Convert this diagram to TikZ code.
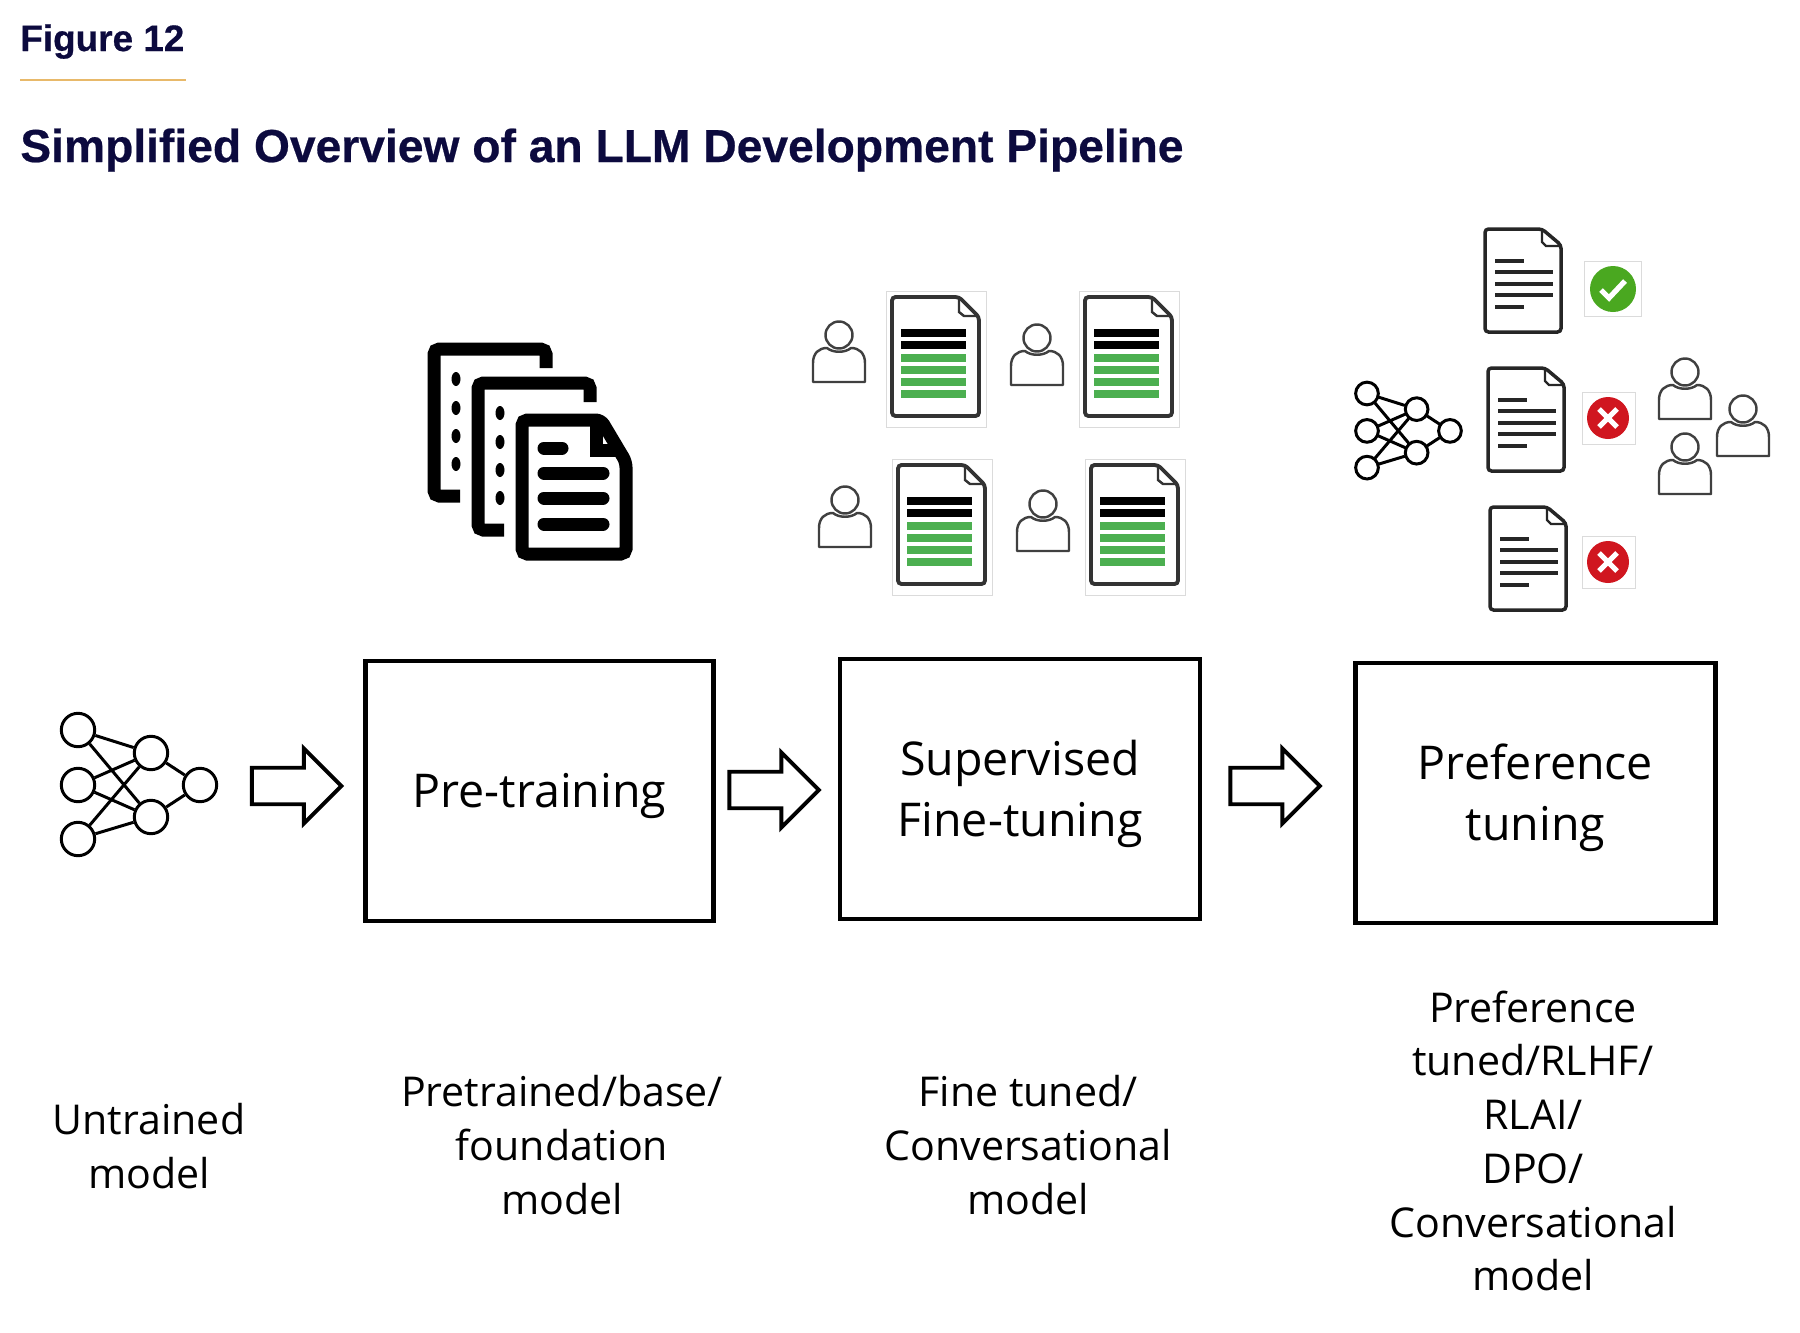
\documentclass[tikz,border=0pt]{standalone}
\usepackage{fontspec}
\setmainfont{Open Sans}
\newfontfamily\headfont[BoldFeatures={FakeBold=0.5}]{Liberation Sans}
\usetikzlibrary{shapes,arrows,positioning}
\definecolor{navy}{HTML}{0C0A3E}
\definecolor{rulegold}{HTML}{E8B96A}
\definecolor{barblue}{HTML}{4CAF50}
\definecolor{okgreen}{HTML}{4AA820}
\definecolor{badred}{HTML}{D0161F}
\newcommand{\lowered}[1]{\raisebox{-2.8pt}[\height][\depth]{#1}}
\tikzset{
	stagebox/.style={draw, line width=2.7pt, minimum width=198pt, minimum height=148pt, inner sep=0pt, align=center, font=\fontsize{26.5}{35}\selectfont},
	stagetext/.style={align=center, inner sep=0pt, font=\fontsize{23.4}{30.6}\selectfont},
	blockarrow/.style={draw, single arrow, line width=2.2pt, minimum height=51pt, minimum width=40.5pt, single arrow head extend=11pt, single arrow head indent=0pt, inner xsep=0pt, inner ysep=9.3pt},
	neuron/.style={draw, circle, line width=1.7pt, fill=white, minimum size=19pt, inner sep=0pt},
	person line/.style={draw=black!75, line width=1.4pt, line join=round},
	faint/.style={draw=black!14, line width=0.5pt},
	nnet/.pic={
		\node[neuron] (i1) at (0,0) {};
		\node[neuron] (i2) at (0,55) {};
		\node[neuron] (i3) at (0,109) {};
		\node[neuron] (m1) at (73,23) {};
		\node[neuron] (m2) at (73,87) {};
		\node[neuron] (o1) at (122,55) {};
		\draw[line width=1.7pt] (i1) -- (m1) (i1) -- (m2) (i2) -- (m1) (i2) -- (m2);
		\draw[line width=1.7pt] (i3) -- (m1) (i3) -- (m2) (m1) -- (o1) (m2) -- (o1);
	},
	person/.pic={
		\draw[person line] (0,0) circle (13.5);
		\draw[person line] (-26,47) -- (-26,28) .. controls (-26,18) and (-20,13) .. (-12,13) .. controls (-6,18) and (6,18) .. (12,13) .. controls (20,13) and (26,18) .. (26,28) -- (26,47) -- cycle;
	},
	labeldoc/.pic={
		\draw[faint] (-6,-6) rectangle (94,130);
		\draw[line width=2.2pt, rounded corners=2pt, black!80] (0,0) -- (67,0) -- (87,20) -- (87,119) -- (0,119) -- cycle;
		\draw[line width=1.4pt, black!80] (67,0) -- (67,15) -- (72,19) -- (87,19);
		\draw[line width=4pt] (9,36) -- (74,36) (9,48) -- (74,48);
		\draw[line width=4pt, barblue] (9,61) -- (74,61) (9,73) -- (74,73) (9,85) -- (74,85) (9,97) -- (74,97);
	},
	textdoc/.pic={
		\draw[line width=2pt, rounded corners=2pt, black!85] (0,0) -- (57,0) -- (76,16) -- (76,103) -- (0,103) -- cycle;
		\draw[line width=1.3pt, black!85] (57,0) -- (57,13) -- (61,17) -- (76,17);
		\draw[line width=1.9pt, black!85] (10,32) -- (39,32) (10,43) -- (68,43) (10,55) -- (68,55) (10,66) -- (68,66) (10,78) -- (39,78);
	},
	okbadge/.pic={
		\draw[faint] (-29,-28) rectangle (28,27);
		\fill[okgreen] (0,0) circle (23);
		\draw[white, line width=3pt] (-12,1) -- (-4,9) -- (12,-8);
	},
	nobadge/.pic={
		\draw[faint] (-26,-26) rectangle (27,26);
		\fill[badred] (0,0) circle (21);
		\draw[white, line width=3pt] (-9,-9) -- (9,9) (-9,9) -- (9,-9);
	},
}
\begin{document}
\begin{tikzpicture}[x=0.02cm, y=-0.02cm]
	\useasboundingbox (0,0) rectangle (1800,1333);
	% heading
	\node[anchor=base west, inner sep=0pt, text=navy, font=\headfont\bfseries\fontsize{21}{21}\selectfont] (figno) at (20,51) {Figure 12};
	\draw[rulegold, line width=1pt] (figno.west |- 0,80) -- (186,80);
	\node[anchor=base west, inner sep=0pt, text=navy, font=\headfont\bfseries\fontsize{26.3}{26.3}\selectfont] (heading) at (20,162) {Simplified Overview of an LLM Development Pipeline};
	% pipeline
	\node[stagebox] (pretrain) at (539.5,791) {\lowered{Pre-training}};
	\node[stagebox, minimum width=205pt] (finetune) at (1020,789) {\lowered{Supervised}\\\lowered{Fine-tuning}};
	\node[stagebox, minimum width=205pt] (preftune) at (1535.5,793) {\lowered{Preference}\\\lowered{tuning}};
	\pic (nnA) at (78,730) {nnet};
	\node[blockarrow] (arrowA) at (287.5,786) {};
	\node[blockarrow] (arrowB) at (765,790) {};
	\node[blockarrow] (arrowC) at (1266,786) {};
	% captions
	\node[stagetext] (untrained) at (149,1146) {Untrained\\model};
	\node[stagetext] (pretrained) at (562,1145) {Pretrained/base/\\foundation\\model};
	\node[stagetext] (finetuned) at (1028,1145) {Fine tuned/\\Conversational\\model};
	\node[stagetext] (preftuned) at (1533,1141) {Preference\\tuned/RLHF/\\RLAI/\\DPO/\\Conversational\\model};
	% stacked documents
	\draw[line width=7.4pt, rounded corners=3pt] (546,368) -- (546,349) -- (434,349) -- (434,496) -- (460,496);
	\fill (456,379) ellipse (4.5 and 7) (456,408) ellipse (4.5 and 7) (456,436) ellipse (4.5 and 7) (456,464) ellipse (4.5 and 7);
	\draw[line width=7.4pt, rounded corners=3pt] (590,402) -- (590,383) -- (478,383) -- (478,530) -- (504,530);
	\fill (500,413) ellipse (4.5 and 7) (500,442) ellipse (4.5 and 7) (500,470) ellipse (4.5 and 7) (500,498) ellipse (4.5 and 7);
	\draw[line width=7.4pt, fill=white, rounded corners=3pt] (522,420) -- (601,420) -- (626,462) -- (626,554) -- (522,554) -- cycle;
	\draw[line width=7.4pt] (596,425) -- (596,450) -- (622,450);
	\draw[line width=7.4pt, line cap=round] (544,448) -- (562,448) (544,473) -- (603,473) (544,498) -- (603,498) (544,524) -- (603,524);
	% supervised pairs
	\pic at (839,335) {person};
	\pic at (892,297) {labeldoc};
	\pic at (1037,338) {person};
	\pic at (1085,297) {labeldoc};
	\pic at (845,500) {person};
	\pic at (898,465) {labeldoc};
	\pic at (1043,504) {person};
	\pic at (1091,465) {labeldoc};
	% preference choice
	\pic[scale=0.68, transform shape] (nnB) at (1367,393.5) {nnet};
	\pic at (1485,229) {textdoc};
	\pic at (1488,368) {textdoc};
	\pic at (1490,507) {textdoc};
	\pic at (1613,289) {okbadge};
	\pic at (1608,418) {nobadge};
	\pic at (1608,562) {nobadge};
	\pic at (1685,372) {person};
	\pic at (1743,409) {person};
	\pic at (1685,447) {person};
\end{tikzpicture}
\end{document}
